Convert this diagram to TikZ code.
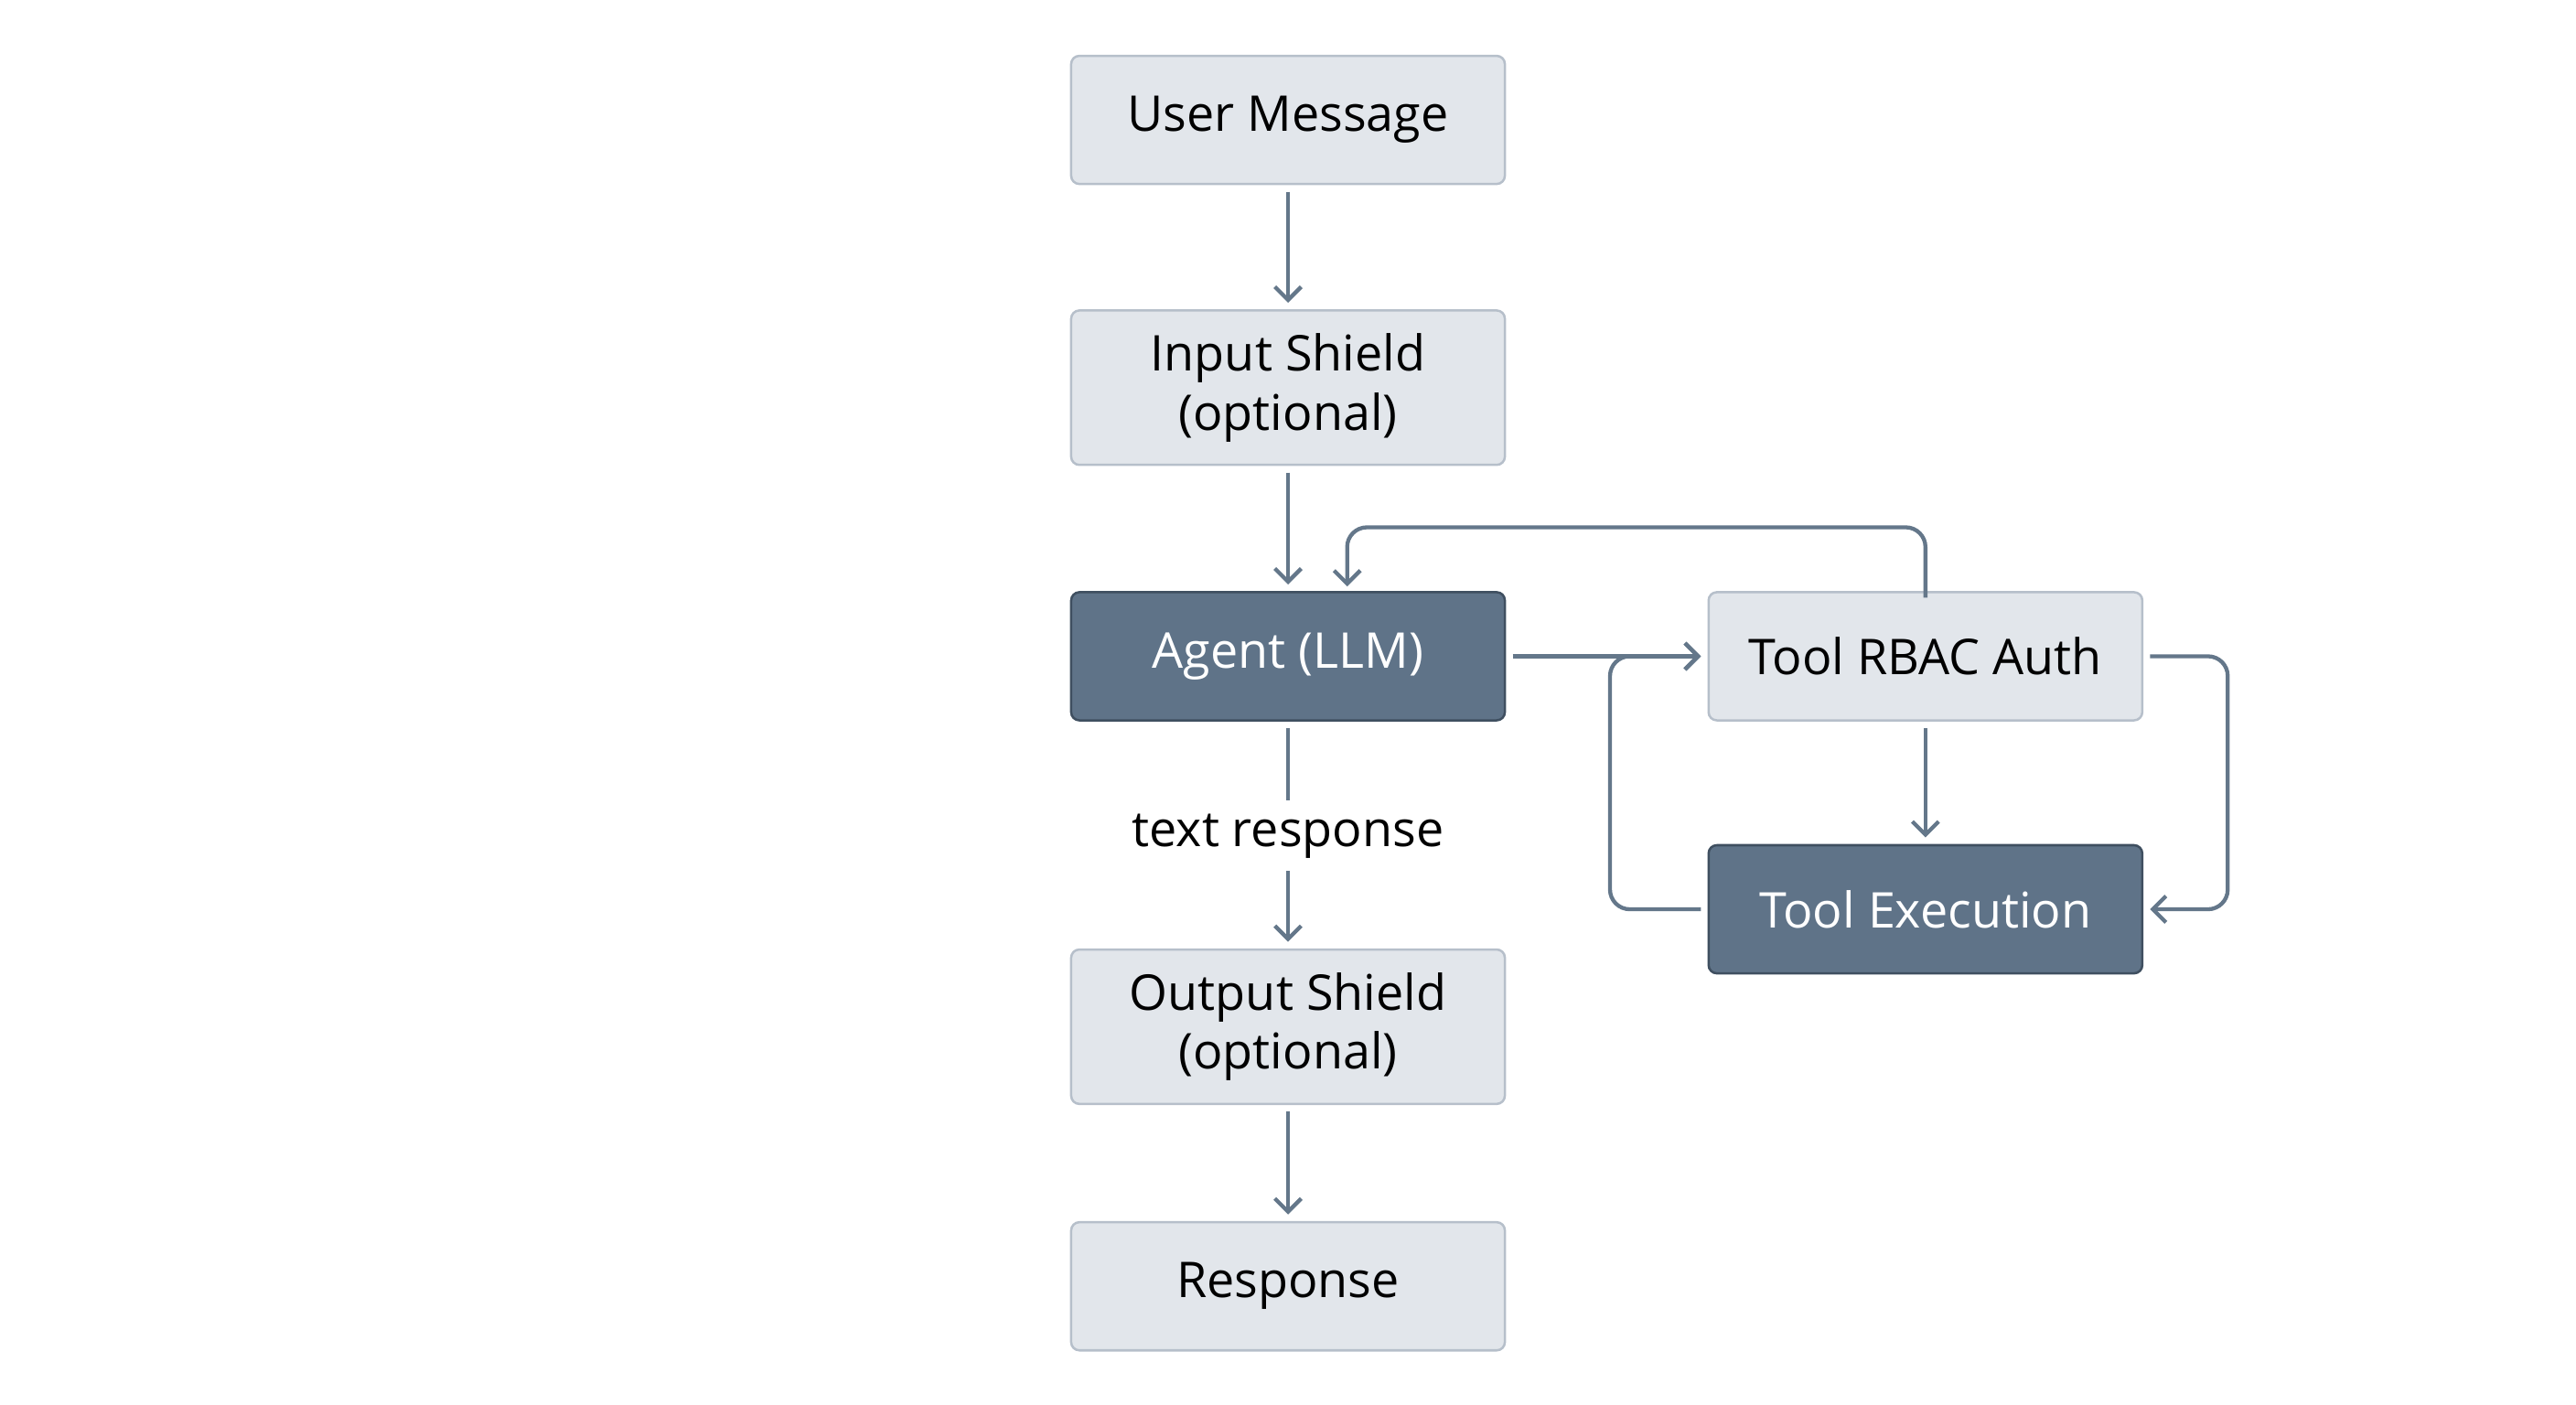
\documentclass[tikz,border=0pt]{standalone}
\usepackage{fontspec}
\setmainfont{Open Sans}
\usetikzlibrary{arrows.meta}
\definecolor{lfill}{HTML}{E2E6EB}
\definecolor{lbord}{HTML}{B6BFCA}
\definecolor{dfill}{HTML}{5F7388}
\definecolor{dbord}{HTML}{3F4F60}
\definecolor{arr}{HTML}{64778A}
\begin{document}
\begin{tikzpicture}[x=0.5pt,y=-0.5pt,
  box/.style={draw=lbord,fill=lfill,line width=0.7pt,rounded corners=2.5pt,minimum width=132pt,align=center,font=\fontsize{15}{18}\selectfont,text=black,inner sep=0pt},
  dbox/.style={box,draw=dbord,fill=dfill,text=white},
  conn/.style={draw=arr,line width=1.2pt,-{Straight Barb[length=4pt,width=8pt,line width=1.2pt]},rounded corners=6pt}]
\useasboundingbox (0,0) rectangle (1568,855);
\node[box,minimum height=39pt] (um) at (784,73) {User Message};
\node[box,minimum height=47pt] (is) at (784,236) {Input Shield\\(optional)};
\node[dbox,minimum height=39pt] (ag) at (784,399.5) {Agent (LLM)};
\node[box,minimum height=47pt] (os) at (784,625) {Output Shield\\(optional)};
\node[box,minimum height=39pt] (rs) at (784,783) {Response};
\node[box,minimum height=39pt] (rb) at (1172,399.5) {Tool RBAC Auth};
\node[dbox,minimum height=39pt] (te) at (1172,553.5) {Tool Execution};
\node[font=\fontsize{15}{18}\selectfont] (tr) at (784,509) {text response};
\coordinate (a1) at (1172,321);
\coordinate (a2) at (820,321);
\coordinate (a3) at (820,357);
\draw[conn] ([yshift=-2pt]um.south) -- ([yshift=2pt]is.north);
\draw[conn] ([yshift=-2pt]is.south) -- ([yshift=2pt]ag.north);
\draw[draw=arr,line width=1.2pt] ([yshift=-2pt]ag.south) -- (784,487);
\draw[conn] (784,530) -- ([yshift=2pt]os.north);
\draw[conn] ([yshift=-2pt]os.south) -- ([yshift=2pt]rs.north);
\draw[conn] ([xshift=2pt]ag.east) -- ([xshift=-2pt]rb.west);
\draw[conn] ([yshift=-2pt]rb.north) -- (a1) -- (a2) -- (a3);
\draw[conn] ([yshift=-2pt]rb.south) -- ([yshift=2pt]te.north);
\draw[conn] ([xshift=2pt]rb.east) -- (1356,399.5) -- (1356,553.5) -- ([xshift=2pt]te.east);
\draw[conn] ([xshift=-2pt]te.west) -- (980,553.5) -- (980,399.5) -- ([xshift=-2pt]rb.west);
\end{tikzpicture}
\end{document}
